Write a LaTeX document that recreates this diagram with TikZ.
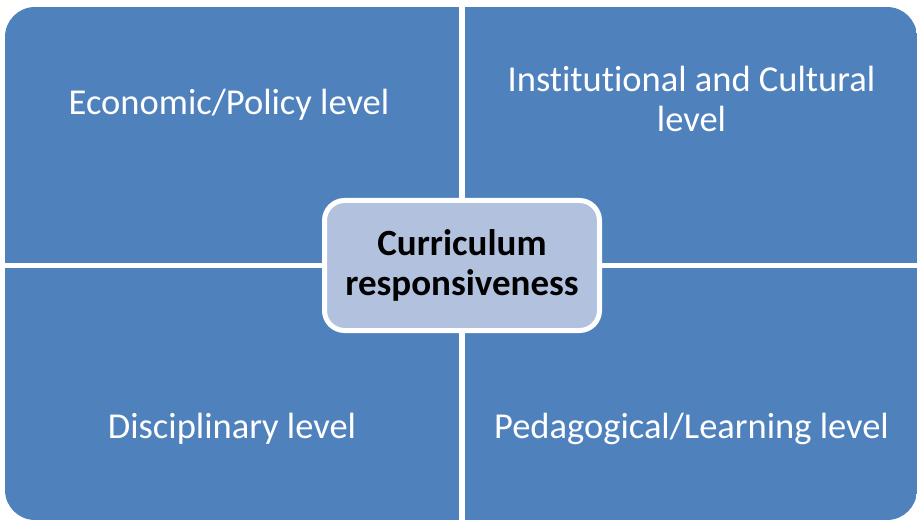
\documentclass[tikz,border=0pt]{standalone}
\usepackage{fontspec}
\setmainfont{Carlito}[Ligatures=NoCommon]
\definecolor{quadblue}{RGB}{79,129,189}
\definecolor{corefill}{RGB}{178,193,222}
\begin{document}
\begin{tikzpicture}[x=1pt,y=-1pt,
  quad/.style={fill=quadblue},
  qtext/.style={text=white,font=\fontsize{36.5}{40}\selectfont,align=center,inner sep=0pt,anchor=base},
  corebox/.style={draw=white,line width=5pt,fill=corefill,rounded corners=20pt,
    minimum width=275pt,minimum height=130pt,align=center,
    font=\fontsize{37}{40}\selectfont\bfseries,text=black,inner sep=0pt}]
\useasboundingbox (0,0) rectangle (917,521);
% four quadrants inside one rounded outline, separated by white gaps
\begin{scope}
  \clip[rounded corners=30pt] (5,7) rectangle (917,520);
  \fill[quad] (5,7) rectangle (459,262.5);
  \fill[quad] (464.5,7) rectangle (917,262.5);
  \fill[quad] (5,268) rectangle (459,520);
  \fill[quad] (464.5,268) rectangle (917,520);
\end{scope}
% quadrant labels (base anchor sits on the last line)
\node[qtext] (econ) at (229,115) {Economic/Policy level};
\node[qtext] (inst) at (691.5,132) {Institutional and Cultural\\level};
\node[qtext] (disc) at (232,438) {Disciplinary level};
\node[qtext] (peda) at (691.5,438) {Pedagogical/Learning level};
% central box
\node[corebox] (core) at (462,265.5) {Curriculum\\responsiveness};
\end{tikzpicture}
\end{document}
